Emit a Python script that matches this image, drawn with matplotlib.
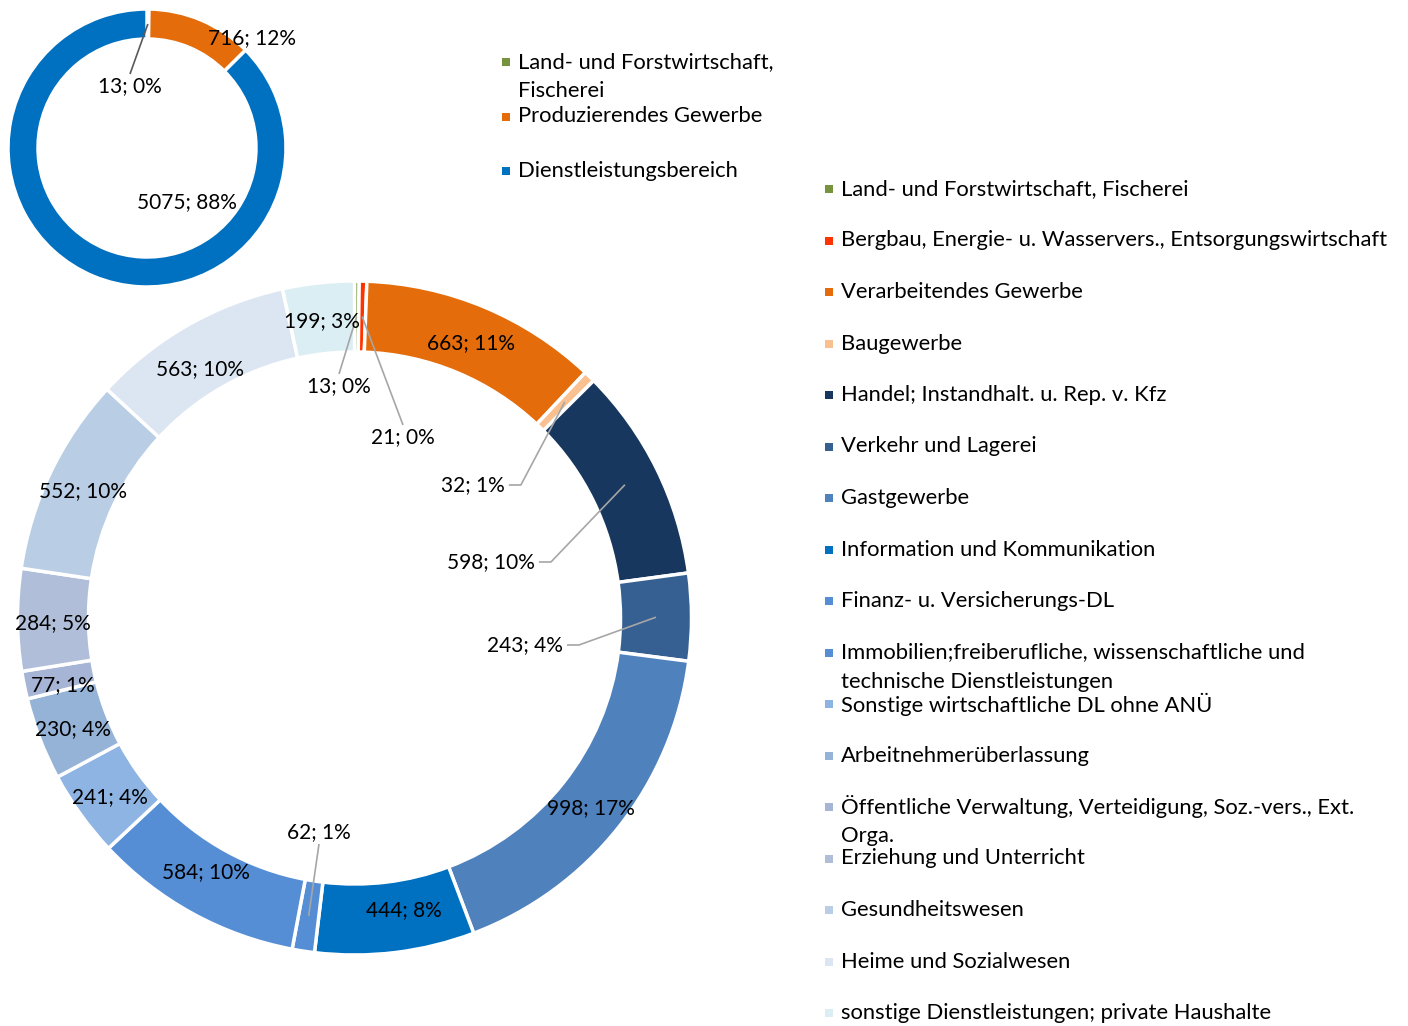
import numpy as np
import matplotlib.pyplot as plt

plt.rcParams['font.family'] = ['Lato', 'DejaVu Sans']

W, H = 1408, 1026

# top donut: sectors
sector_names = ["Land- und Forstwirtschaft,\nFischerei", "Produzierendes Gewerbe", "Dienstleistungsbereich"]
sector_values = [13, 716, 5075]
sector_pct = [0, 12, 88]
sector_colors = ["#77933C", "#E46C0A", "#0070C0"]

# big donut: branches
branch_names = [
    "Land- und Forstwirtschaft, Fischerei",
    "Bergbau, Energie- u. Wasservers., Entsorgungswirtschaft",
    "Verarbeitendes Gewerbe",
    "Baugewerbe",
    "Handel; Instandhalt. u. Rep. v. Kfz",
    "Verkehr und Lagerei",
    "Gastgewerbe",
    "Information und Kommunikation",
    "Finanz- u. Versicherungs-DL",
    "Immobilien;freiberufliche, wissenschaftliche und\ntechnische Dienstleistungen",
    "Sonstige wirtschaftliche DL ohne ANÜ",
    "Arbeitnehmerüberlassung",
    "Öffentliche Verwaltung, Verteidigung, Soz.-vers., Ext.\nOrga.",
    "Erziehung und Unterricht",
    "Gesundheitswesen",
    "Heime und Sozialwesen",
    "sonstige Dienstleistungen; private Haushalte",
]
branch_values = [13, 21, 663, 32, 598, 243, 998, 444, 62, 584, 241, 230, 77, 284, 552, 563, 199]
branch_pct = [0, 0, 11, 1, 10, 4, 17, 8, 1, 10, 4, 4, 1, 5, 10, 10, 3]
branch_colors = ["#77933C", "#FF3300", "#E46C0A", "#FAC090", "#17375E", "#376092",
                 "#4F81BD", "#0070C0", "#558ED5", "#558ED5", "#8DB4E2", "#95B3D7",
                 "#A6B5D5", "#B0BED9", "#B9CDE5", "#DCE6F2", "#DBEEF4"]

fig = plt.figure(figsize=(W / 100, H / 100), dpi=100)
ax = fig.add_axes([0, 0, 1, 1])

def Y(y):
    return H - y

FS = 15
FS_LEG = 15.8
LEADER = "#A6A6A6"

def donut(values, colors, cx, cy, r_out, r_in):
    wedges, _ = ax.pie(values, colors=colors, startangle=90, counterclock=False,
                       center=(cx, Y(cy)), radius=r_out,
                       wedgeprops=dict(width=r_out - r_in, edgecolor="white", linewidth=2.5))
    mids = []
    for w in wedges:
        a = np.deg2rad((w.theta1 + w.theta2) / 2)
        r = (r_out + r_in) / 2
        mids.append((cx + r * np.cos(a), cy - r * np.sin(a)))
    return mids

# small donut
s_mid = donut(sector_values, sector_colors, 147, 148, 139, 109)
# big donut
b_mid = donut(branch_values, branch_colors, 354.5, 618, 337, 266)

ax.set_xlim(0, W)
ax.set_ylim(0, H)
ax.set_aspect('auto')
ax.axis('off')

# moved labels: index -> (label position, where the leader leaves the label)
s_moved = {0: ((130, 86), 'top'), 1: ((252, 38), None), 2: ((187, 202), None)}
b_moved = {0: ((339, 386), 'top'), 1: ((403, 437), 'top'), 3: ((473, 485), 'right'),
           4: ((491, 562), 'right'), 5: ((525, 645), 'right'), 8: ((319, 832), 'bottom'),
           7: ((404, 910), None), 9: ((206, 872), None), 12: ((63, 685), None),
           15: ((200, 369), None)}

fig.canvas.draw()
renderer = fig.canvas.get_renderer()

def labels(values, pcts, mids, moved):
    for i, (v, p) in enumerate(zip(values, pcts)):
        mx, my = mids[i]
        lx, ly = mx, my + 3
        side = None
        if i in moved:
            (lx, ly), side = moved[i]
        t = ax.text(lx, Y(ly), f"{v}; {p}%", ha='center', va='center', fontsize=FS, color="black")
        if side is None:
            continue
        bb = t.get_window_extent(renderer)
        hw = bb.width / 2
        hh = bb.height / 2
        if side == 'right':
            xs = [lx + hw + 4, lx + hw + 16, mx]
            ys = [ly, ly, my]
        elif side == 'top':
            xs = [lx, mx]
            ys = [ly - hh - 2, my]
        else:
            xs = [lx, mx]
            ys = [ly + hh + 2, my]
        ax.plot(xs, [Y(y) for y in ys], color=LEADER if len(values) > 3 else "#595959",
                lw=1.2, solid_capstyle='butt')

labels(sector_values, sector_pct, s_mid, s_moved)
labels(branch_values, branch_pct, b_mid, b_moved)

def legend(names, colors, x, y0, step, line_h=29):
    for i, (n, c) in enumerate(zip(names, colors)):
        y = y0 + i * step
        ax.scatter([x], [Y(y)], marker='s', s=38, color=c, linewidths=0)
        for k, line in enumerate(n.split("\n")):
            ax.text(x + 12, Y(y + k * line_h), line, ha='left', va='center', fontsize=FS_LEG, color="black")

legend(sector_names, sector_colors, 506, 62, 54.5)
legend(branch_names, branch_colors, 829, 189, 51.5)

fig.savefig("out.png", dpi=100)
